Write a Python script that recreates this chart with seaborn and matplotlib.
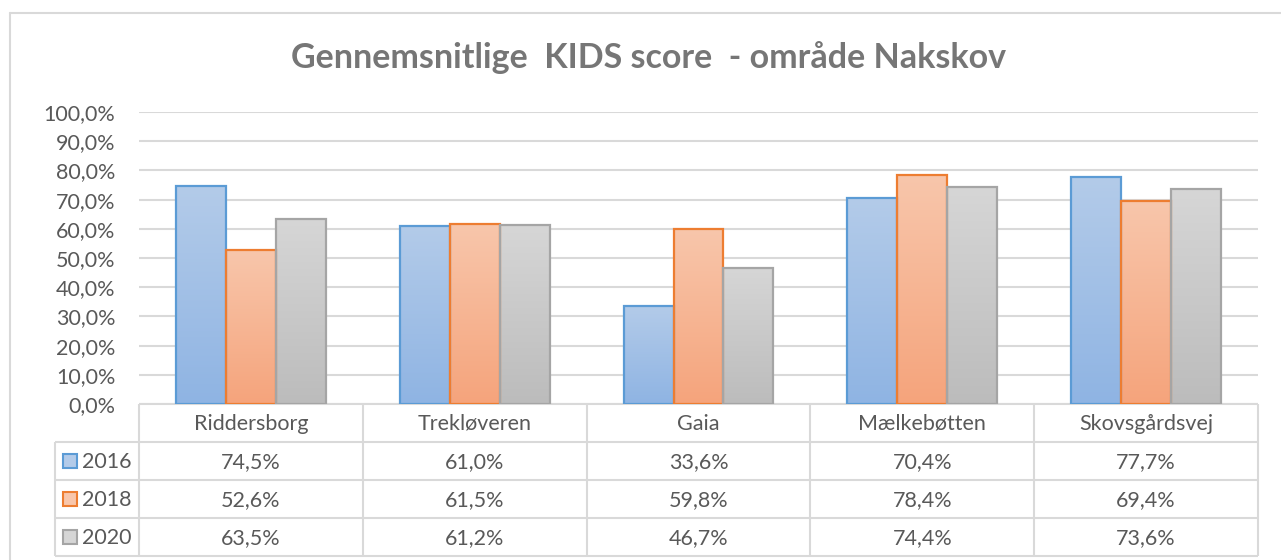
import matplotlib
matplotlib.use("Agg")
import matplotlib.pyplot as plt
import matplotlib.transforms as mtransforms
from matplotlib.colors import to_rgb
import numpy as np
import pandas as pd
import seaborn as sns

# ---- data ----
categories = ["Riddersborg", "Trekløveren", "Gaia", "Mælkebøtten", "Skovsgårdsvej"]
years = ["2016", "2018", "2020"]
values_2016 = [74.5, 61.0, 33.6, 70.4, 77.7]
values_2018 = [52.6, 61.5, 59.8, 78.4, 69.4]
values_2020 = [63.5, 61.2, 46.7, 74.4, 73.6]
y_ticks = [0, 10, 20, 30, 40, 50, 60, 70, 80, 90, 100]
title = "Gennemsnitlige  KIDS score  - område Nakskov"

series = {"2016": values_2016, "2018": values_2018, "2020": values_2020}
df = pd.DataFrame([
    {"school": c, "year": y, "value": v}
    for y in years for c, v in zip(categories, series[y])
])

# styles: (top colour, bottom colour, edge colour)
styles = {
    "2016": ("#b3cbe9", "#8fb4e3", "#5b9bd5"),
    "2018": ("#f8c6ab", "#f5a47c", "#ed7d31"),
    "2020": ("#d6d6d6", "#bcbcbc", "#a5a5a5"),
}
text_col = "#595959"
grid_col = "#d9d9d9"
fs = 15.5

sns.set_theme(style="white")
plt.rcParams['font.family'] = ['Lato', 'DejaVu Sans']

W, H = 1281, 560
fig = plt.figure(figsize=(W / 100, H / 100), dpi=100)
ov = fig.add_axes([0, 0, 1, 1])
ov.set_xlim(0, W)
ov.set_ylim(H, 0)
ov.axis('off')

L, R, T, B = 139, 1258, 112, 404
ax = fig.add_axes([L / W, 1 - B / H, (R - L) / W, (B - T) / H])
ax.set_facecolor('none')
ax.set_zorder(2)

sns.barplot(data=df, x="school", y="value", hue="year", order=categories,
            hue_order=years, palette=[styles[y][2] for y in years],
            width=0.67, saturation=1, legend=False, ax=ax, linewidth=1.6)

for cont, yr in zip(ax.containers, years):
    top, bot, edge = styles[yr]
    grad = np.linspace(to_rgb(top), to_rgb(bot), 64).reshape(64, 1, 3)
    for bar in cont:
        bar.set_edgecolor(edge)
        bar.set_facecolor('none')
        x0, y0 = bar.get_xy()
        w, h = bar.get_width(), bar.get_height()
        ax.imshow(grad, extent=[x0, x0 + w, y0, y0 + h], aspect='auto',
                  interpolation='bilinear', origin='upper',
                  zorder=bar.get_zorder() - 0.1)

ax.set_xlim(-0.5, len(categories) - 0.5)
ax.set_ylim(0, 100)
ax.set_yticks(y_ticks)
ax.set_yticklabels([f"{v:.1f}%".replace('.', ',') for v in y_ticks])
ax.yaxis.grid(True, color=grid_col, lw=1.5)
ax.set_axisbelow(True)
for s in ax.spines.values():
    s.set_visible(False)
ax.tick_params(axis='y', length=0, pad=17, labelsize=fs, labelcolor=text_col)
ax.tick_params(axis='x', bottom=False, labelbottom=False)
ax.set_xlabel('')
ax.set_ylabel('')

# ---- title & outer border ----
ov.text(W / 2 + 8, 58, title, ha='center', va='center', fontsize=24.5,
        fontweight='bold', color='#767676')
ov.plot([10, W], [13, 13], color=grid_col, lw=1.5)
ov.plot([10, 10], [13, H], color=grid_col, lw=1.5)

# ---- data table ----
tr = mtransforms.blended_transform_factory(ax.transData, ov.transData)
colw = (R - L) / len(categories)
leg_left = -0.5 - (L - 55) / colw
rows_y = [404, 442, 480, 518, 556]
n = len(categories)
lk = dict(color=grid_col, lw=1.5, transform=tr, solid_capstyle='butt')
ov.plot([-0.5, n - 0.5], [rows_y[0]] * 2, **lk)
for yy in rows_y[1:]:
    ov.plot([leg_left, n - 0.5], [yy, yy], **lk)
for i in range(n + 1):
    ov.plot([i - 0.5, i - 0.5], [rows_y[0], rows_y[-1]], **lk)
ov.plot([leg_left, leg_left], [rows_y[1], rows_y[-1]], **lk)

for i, c in enumerate(categories):
    ov.text(i, (rows_y[0] + rows_y[1]) / 2 + 1, c, transform=tr, ha='center',
            va='center', fontsize=fs, color=text_col)
for r, yr in enumerate(years):
    yc = (rows_y[r + 1] + rows_y[r + 2]) / 2 + 1
    for i, v in enumerate(series[yr]):
        ov.text(i, yc, f"{v:.1f}%".replace('.', ','), transform=tr,
                ha='center', va='center', fontsize=fs, color=text_col)
    top, bot, edge = styles[yr]
    ov.plot([70], [yc - 1], marker='s', markersize=10, markerfacecolor=top,
            markeredgecolor=edge, markeredgewidth=1.5, linestyle='none')
    ov.text(82, yc, yr, ha='left', va='center', fontsize=fs, color=text_col)

fig.savefig("out.png", dpi=100)
